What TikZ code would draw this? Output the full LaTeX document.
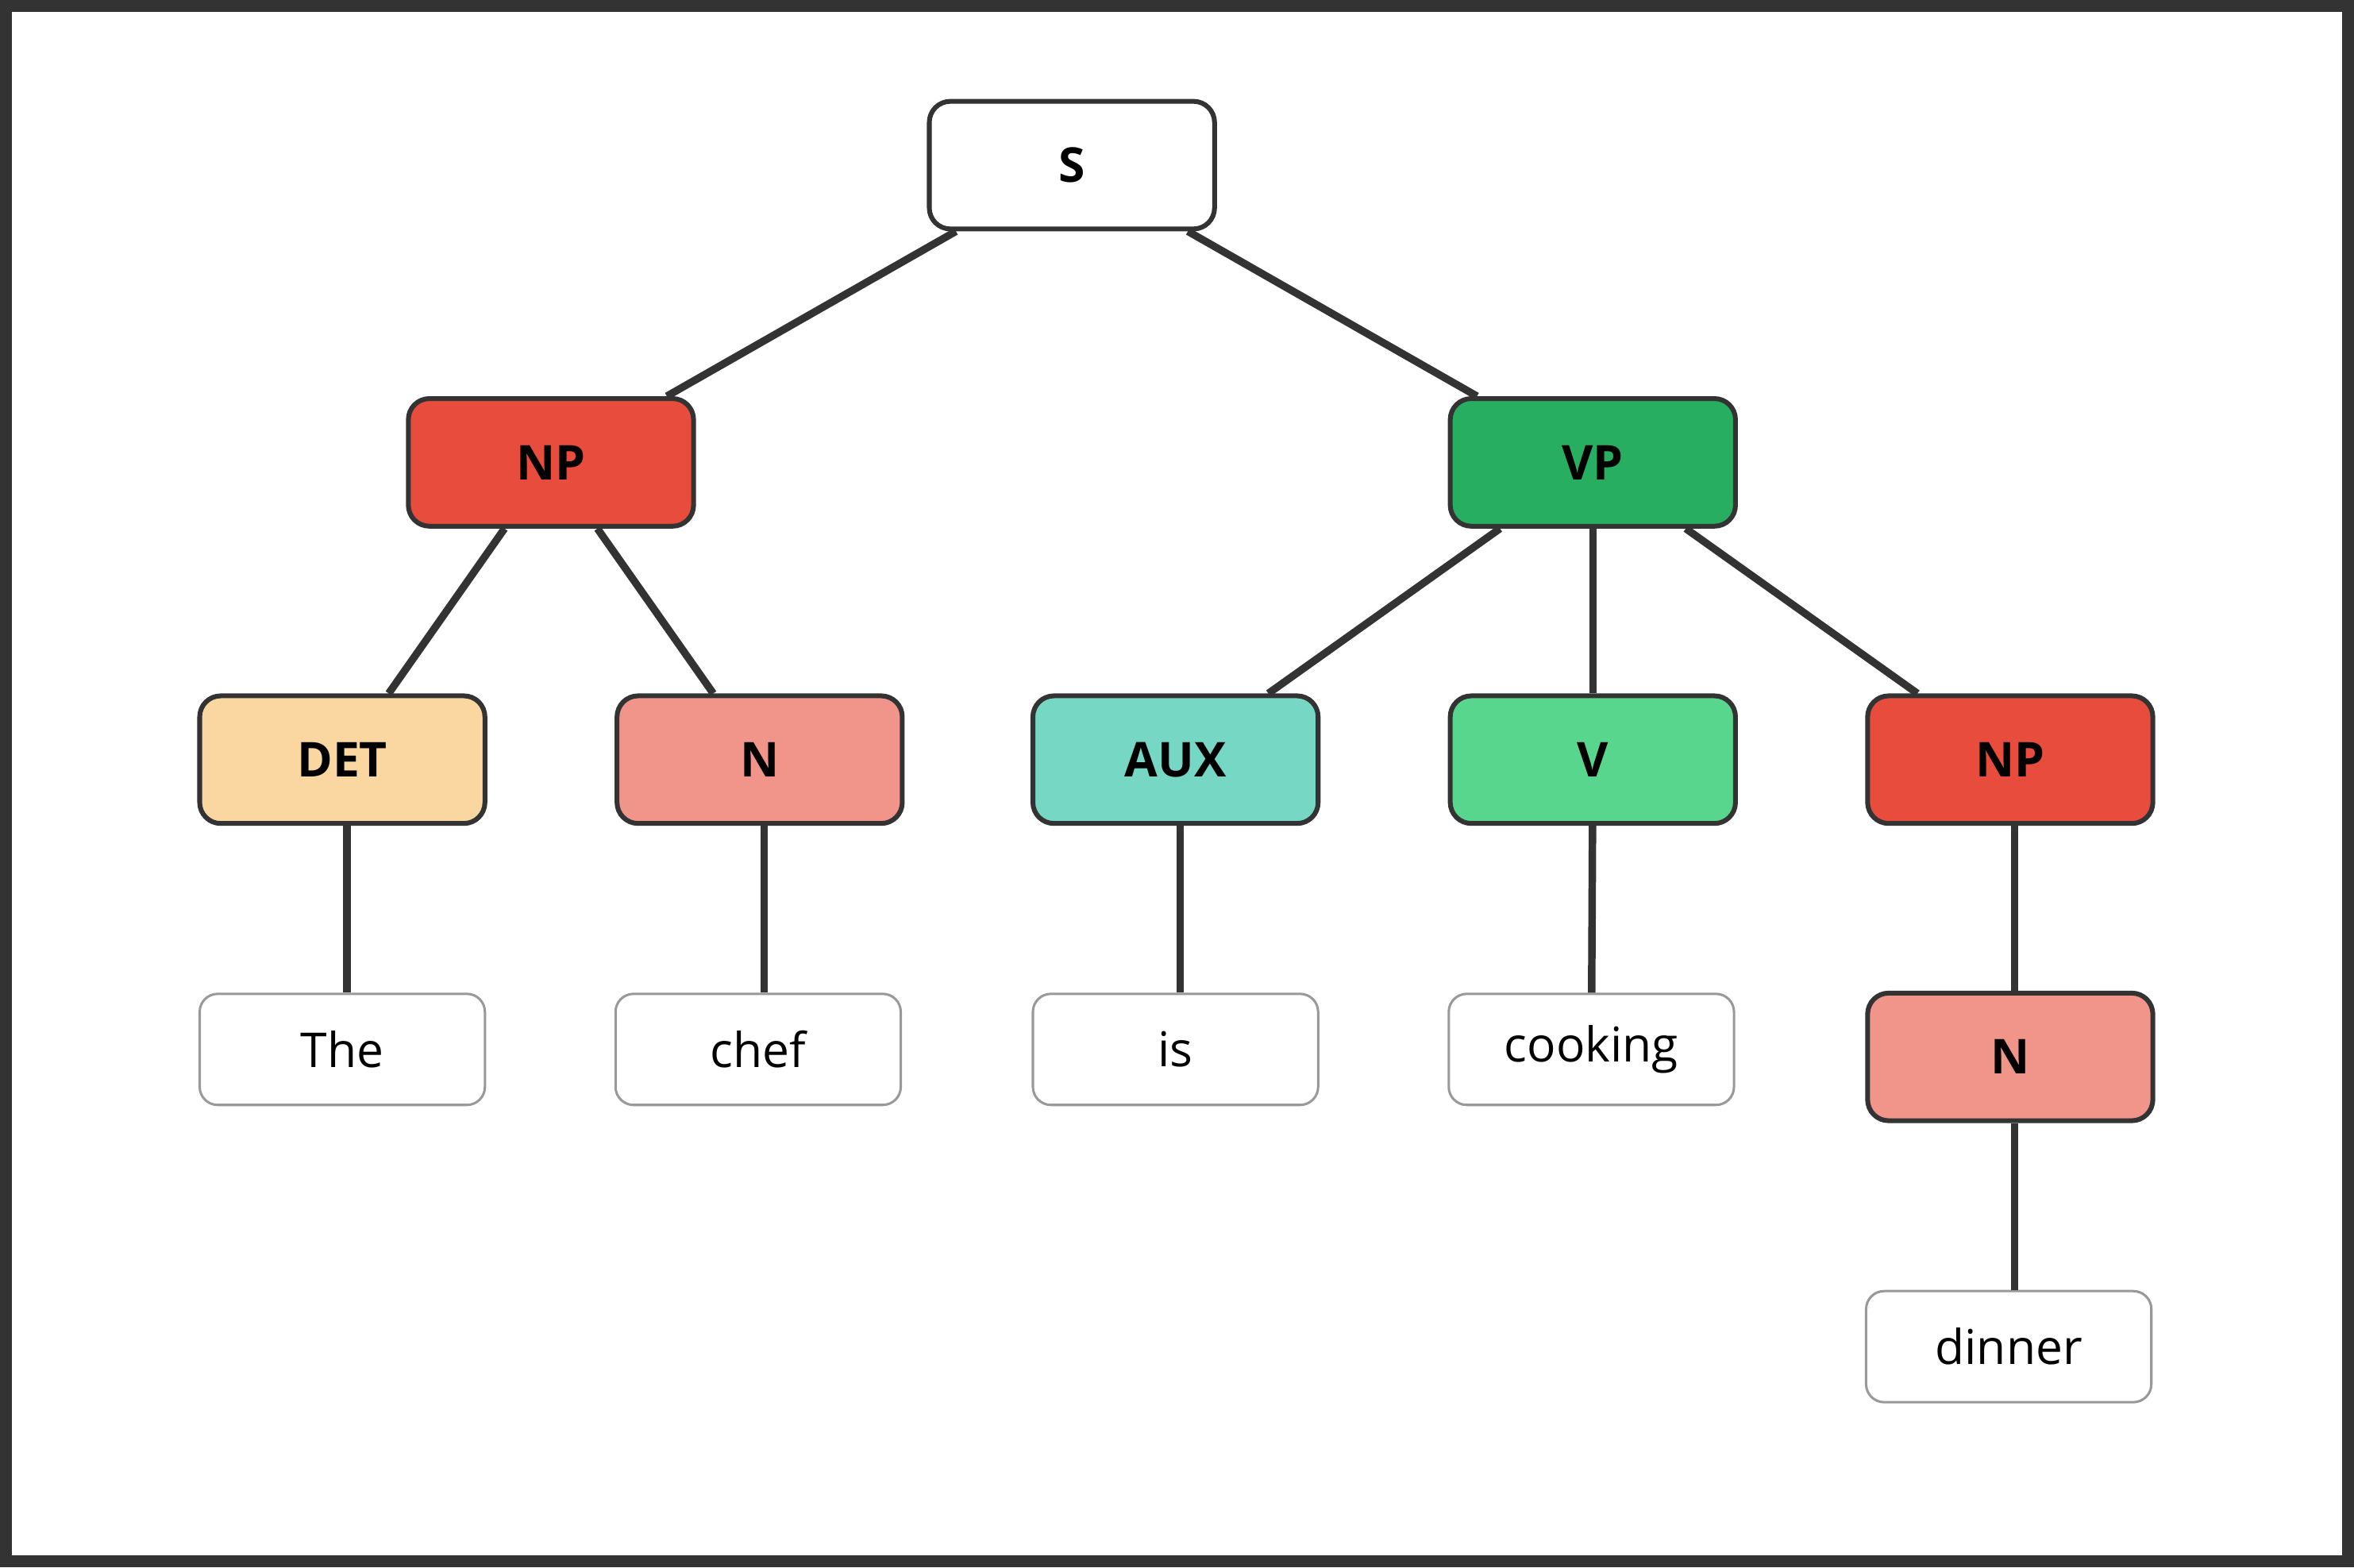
\documentclass[tikz,border=0pt]{standalone}
\usepackage{fontspec}
\setmainfont{Open Sans}
\definecolor{edge}{HTML}{333333}
\definecolor{cNP}{HTML}{E74C3C}
\definecolor{cVP}{HTML}{27AE60}
\definecolor{cDET}{HTML}{FAD7A0}
\definecolor{cN}{HTML}{F1948A}
\definecolor{cAUX}{HTML}{76D7C4}
\definecolor{cV}{HTML}{58D68D}
\begin{document}
\begin{tikzpicture}[x=0.5pt,y=-0.5pt,
  cat/.style={draw=edge,line width=1.6pt,rounded corners=7pt,minimum width=95pt,minimum height=42.5pt,font=\fontsize{16}{18}\selectfont\bfseries,inner sep=0pt},
  leaf/.style={draw=black!40,line width=0.8pt,rounded corners=6pt,minimum width=95pt,minimum height=37pt,font=\fontsize{16}{18}\selectfont,inner sep=0pt,fill=white},
  con/.style={draw=edge,line width=2.5pt}]
\useasboundingbox (0,0) rectangle (1568,1044);
\draw[edge,line width=4pt,fill=white] (4,4) rectangle (1564,1040);
\node[cat,fill=white] (S) at (714,110) {S};
\node[cat,fill=cNP] (NP) at (367,308) {NP};
\node[cat,fill=cVP] (VP) at (1061,308) {VP};
\node[cat,fill=cDET] (DET) at (228,506) {DET};
\node[cat,fill=cN] (N) at (506,506) {N};
\node[cat,fill=cAUX] (AUX) at (783,506) {AUX};
\node[cat,fill=cV] (V) at (1061,506) {V};
\node[cat,fill=cNP] (NP2) at (1339,506) {NP};
\node[leaf] (The) at (228,699) {The};
\node[leaf] (chef) at (505,699) {chef};
\node[leaf] (is) at (783,699) {is};
\node[leaf] (cooking) at (1060,699) {cooking};
\node[cat,fill=cN] (N2) at (1339,704) {N};
\node[leaf] (dinner) at (1338,897) {dinner};
\begin{scope}[on background layer/.style={}]
\draw[con] (S) -- (NP);
\draw[con] (S) -- (VP);
\draw[con] (NP) -- (DET);
\draw[con] (NP) -- (N);
\draw[con] (VP) -- (AUX);
\draw[con] (VP) -- (V);
\draw[con] (VP) -- (NP2);
\draw[con] (DET.south) ++(3,0) coordinate (d1) -- (The.north -| d1);
\draw[con] (N.south) ++(3,0) coordinate (n1) -- (chef.north -| n1);
\draw[con] (AUX.south) ++(3,0) coordinate (a1) -- (is.north -| a1);
\draw[con] (V) -- (cooking);
\draw[con] (NP2.south) ++(3,0) coordinate (p1) -- (N2.north -| p1);
\draw[con] (N2.south) ++(3,0) coordinate (m1) -- (dinner.north -| m1);
\end{scope}
\end{tikzpicture}
\end{document}
